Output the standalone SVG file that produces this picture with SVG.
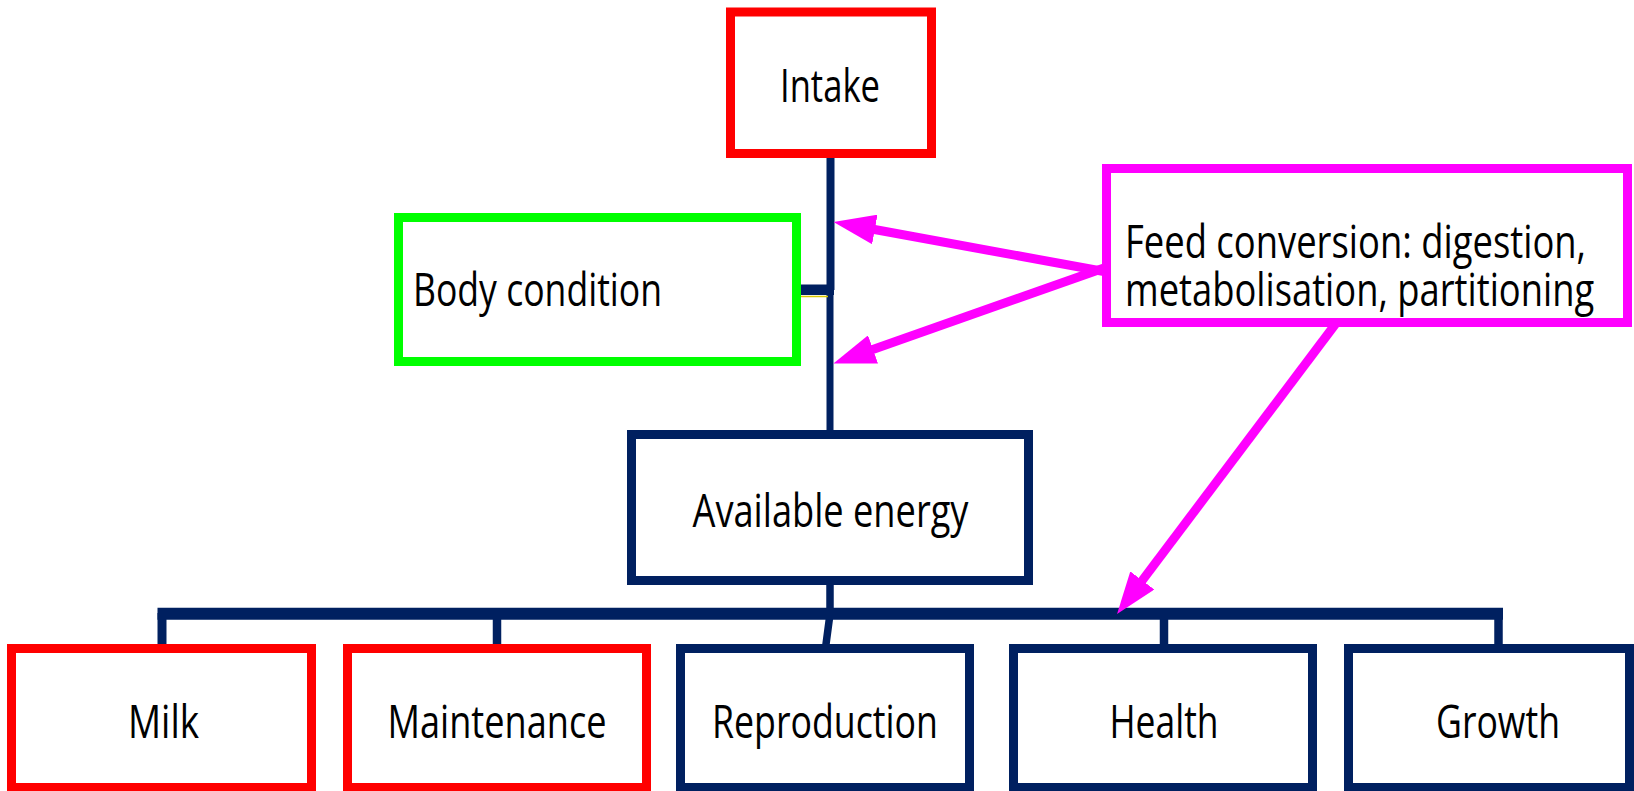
<svg xmlns="http://www.w3.org/2000/svg" width="1634" height="791" viewBox="0 0 1634 791">
<defs>
<style>
.box{fill:#ffffff;stroke-width:9}
.red{stroke:#ff0000}
.green{stroke:#00ff00}
.mag{stroke:#ff00ff}
.navy{stroke:#002060}
.lbl{font-family:"Open Sans","Noto Sans","Liberation Sans",sans-serif;font-size:46px;fill:#000000}
.mid{text-anchor:middle}
.nv{stroke:#002060;fill:none;stroke-linecap:butt}
.arr{stroke:#ff00ff;stroke-width:9;fill:none;marker-end:url(#ah)}
</style>
<marker id="ah" markerUnits="userSpaceOnUse" markerWidth="42" markerHeight="30" viewBox="0 0 42 30" refX="10" refY="15" orient="auto">
<path d="M0,0 L42,15 L0,30 Z" fill="#ff00ff"/>
</marker>
</defs>
<rect width="1634" height="791" fill="#ffffff"/>
<g id="connectors">
<line class="nv" x1="830.5" y1="150" x2="830.5" y2="290" stroke-width="8"/>
<line class="nv" x1="830" y1="288" x2="830" y2="436" stroke-width="7"/>
<line class="nv" x1="798" y1="289.7" x2="834" y2="289.7" stroke-width="10.5"/>
<line x1="801" y1="296.5" x2="828" y2="296.5" stroke="#d8c800" stroke-width="1.5"/>
<path class="nv" d="M830,580 L830,614 L825.5,648" stroke-width="7.5"/>
<line class="nv" x1="157.5" y1="613.7" x2="1503" y2="613.7" stroke-width="12"/>
<line class="nv" x1="162" y1="613" x2="162" y2="648" stroke-width="9"/>
<line class="nv" x1="497" y1="613" x2="497" y2="648" stroke-width="8.5"/>
<line class="nv" x1="1164" y1="613" x2="1164" y2="648" stroke-width="8.5"/>
<line class="nv" x1="1498.5" y1="613" x2="1498.5" y2="648" stroke-width="8.5"/>
<line class="arr" x1="1104" y1="271.5" x2="865" y2="227.7"/>
<line class="arr" x1="1104" y1="268" x2="863.6" y2="352.8"/>
<line class="arr" x1="1340" y1="318" x2="1136.3" y2="588.4" stroke-width="8.5"/>
</g>
<g id="intake">
<rect class="box red" x="730.5" y="12" width="201" height="141.5"/>
<text class="lbl mid" x="830" y="102" textLength="100" lengthAdjust="spacingAndGlyphs">Intake</text>
</g>
<g id="body-condition">
<rect class="box green" x="398.5" y="217.5" width="398" height="144"/>
<text class="lbl" x="413" y="306" textLength="249" lengthAdjust="spacingAndGlyphs">Body condition</text>
</g>
<g id="feed-conversion">
<rect class="box mag" x="1106.5" y="168.5" width="521" height="154"/>
<text class="lbl" transform="translate(1125 258) scale(0.74 1)" x="0" y="0" textLength="623" lengthAdjust="spacingAndGlyphs">Feed conversion: digestion,</text>
<text class="lbl" transform="translate(1125 306) scale(0.74 1)" x="0" y="0" textLength="634" lengthAdjust="spacingAndGlyphs">metabolisation, partitioning</text>
</g>
<g id="available-energy">
<rect class="box navy" x="631.5" y="434.5" width="397" height="146"/>
<text class="lbl mid" x="830.5" y="527" textLength="276" lengthAdjust="spacingAndGlyphs">Available energy</text>
</g>
<g id="milk">
<rect class="box red" x="11.5" y="648.5" width="300" height="139"/>
<text class="lbl mid" x="163.5" y="738" textLength="71" lengthAdjust="spacingAndGlyphs">Milk</text>
</g>
<g id="maintenance">
<rect class="box red" x="347.5" y="648.5" width="299" height="139"/>
<text class="lbl mid" x="497" y="738" textLength="219" lengthAdjust="spacingAndGlyphs">Maintenance</text>
</g>
<g id="reproduction">
<rect class="box navy" x="680.5" y="648.5" width="289" height="139"/>
<text class="lbl mid" x="825" y="738" textLength="226" lengthAdjust="spacingAndGlyphs">Reproduction</text>
</g>
<g id="health">
<rect class="box navy" x="1013.5" y="648.5" width="299" height="139"/>
<text class="lbl mid" x="1164" y="738" textLength="109" lengthAdjust="spacingAndGlyphs">Health</text>
</g>
<g id="growth">
<rect class="box navy" x="1348.5" y="648.5" width="281" height="139"/>
<text class="lbl mid" x="1498" y="738" textLength="124" lengthAdjust="spacingAndGlyphs">Growth</text>
</g>
</svg>
